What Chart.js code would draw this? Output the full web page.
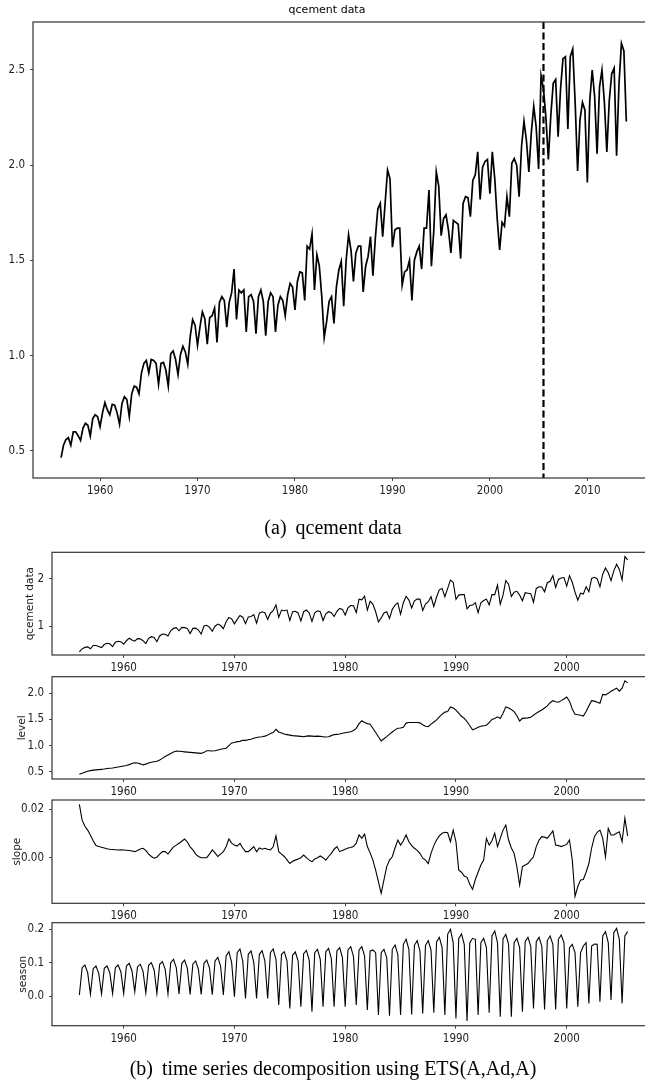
<!DOCTYPE html>
<html><head><meta charset="utf-8">
<script src="https://cdn.jsdelivr.net/npm/chart.js@4"></script>
<style>
html,body{margin:0;padding:0;background:#fff;width:645px;height:1087px;overflow:hidden;}
#wrap{position:relative;width:645px;height:1087px;overflow:hidden;}
canvas{position:absolute;left:0;top:0;}
.cap{position:absolute;left:0;width:666px;text-align:center;font-family:"Liberation Serif","DejaVu Serif",serif;font-size:20px;line-height:20px;color:#000;white-space:nowrap;}
</style></head><body>
<div id="wrap">
<canvas id="c0" width="654" height="1087" style="width:654px;height:1087px"></canvas>
<canvas id="c1" width="655" height="1087" style="width:655px;height:1087px"></canvas>
<canvas id="c2" width="655" height="1087" style="width:655px;height:1087px"></canvas>
<canvas id="c3" width="655" height="1087" style="width:655px;height:1087px"></canvas>
<canvas id="c4" width="655" height="1087" style="width:655px;height:1087px"></canvas>
<div class="cap" style="top:517px">(a)<span style="margin-left:9px">qcement data</span></div>
<div class="cap" style="top:1058px">(b)<span style="margin-left:9px">time series decomposition using ETS(A,Ad,A)</span></div>
</div>
<script>
// ---- data (quarterly, starting 1956 Q1) ----
const startYear = 1956;
const qcement = [
0.465,0.53,0.56,0.57, 0.53,0.60,0.60,0.58, 0.555,0.62,0.645,0.635, 0.578,0.67,0.69,0.68,
0.627,0.70,0.754,0.715, 0.69,0.745,0.74,0.70, 0.64,0.75,0.785,0.77, 0.68,0.80,0.84,0.835,
0.80,0.91,0.96,0.975, 0.91,0.98,0.975,0.96, 0.85,0.96,0.965,0.925, 0.84,1.01,1.025,0.98,
0.90,1.005,1.05,1.02, 0.955,1.10,1.19,1.16, 1.055,1.15,1.23,1.195, 1.06,1.20,1.21,1.25,
1.07,1.28,1.31,1.29, 1.15,1.28,1.33,1.455, 1.19,1.345,1.33,1.345, 1.125,1.31,1.32,1.285,
1.115,1.31,1.345,1.285, 1.105,1.285,1.33,1.31, 1.125,1.265,1.31,1.29, 1.21,1.32,1.38,1.36,
1.24,1.39,1.44,1.435, 1.29,1.575,1.56,1.64, 1.345,1.53,1.47,1.31, 1.095,1.18,1.285,1.31,
1.17,1.36,1.45,1.495, 1.26,1.50,1.635,1.555, 1.39,1.54,1.575,1.575, 1.335,1.47,1.52,1.625,
1.42,1.62,1.77,1.80, 1.625,1.80,1.975,1.93, 1.57,1.66,1.67,1.67, 1.37,1.44,1.45,1.50,
1.29,1.50,1.545,1.575, 1.455,1.67,1.67,1.87, 1.47,1.66,1.965,1.89, 1.63,1.72,1.74,1.66,
1.54,1.71,1.70,1.69, 1.51,1.80,1.835,1.83, 1.73,1.92,1.95,2.07, 1.82,1.99,2.02,2.03,
1.85,2.07,1.93,1.72, 1.555,1.70,1.68,1.835, 1.73,2.01,2.035,2.0, 1.835,2.1,2.23,2.13,
1.965,2.17,2.31,2.20, 1.98,2.47,2.40,2.25, 2.03,2.26,2.43,2.45, 2.15,2.40,2.56,2.57,
2.19,2.57,2.61,2.33, 1.97,2.24,2.33,2.29, 1.91,2.34,2.50,2.36, 2.06,2.41,2.50,2.33,
2.07,2.34,2.48,2.51, 2.05,2.43,2.64,2.60, 2.23
];
const decompLength = 199; // 1956 Q1 .. 2005 Q3
const level = [
0.45,0.47,0.49,0.51, 0.52,0.53,0.535,0.54, 0.545,0.55,0.56,0.565, 0.57,0.58,0.59,0.60,
0.61,0.62,0.635,0.655, 0.67,0.665,0.65,0.63, 0.645,0.665,0.68,0.69, 0.70,0.725,0.755,0.79,
0.82,0.85,0.875,0.895, 0.89,0.885,0.88,0.875, 0.87,0.865,0.86,0.855, 0.85,0.87,0.90,0.90,
0.895,0.90,0.915,0.93, 0.94,0.95,1.0,1.05, 1.06,1.075,1.08,1.10, 1.10,1.11,1.12,1.14,
1.155,1.165,1.17,1.18, 1.20,1.23,1.25,1.31, 1.26,1.24,1.22,1.21, 1.20,1.19,1.185,1.18,
1.175,1.17,1.18,1.185, 1.18,1.175,1.18,1.175, 1.17,1.165,1.17,1.19, 1.21,1.215,1.22,1.235,
1.245,1.255,1.265,1.29, 1.33,1.42,1.475,1.44, 1.42,1.41,1.33,1.25, 1.17,1.09,1.13,1.17,
1.22,1.26,1.30,1.33, 1.335,1.35,1.43,1.44, 1.44,1.44,1.44,1.435, 1.40,1.37,1.36,1.41,
1.45,1.49,1.55,1.60, 1.64,1.65,1.74,1.72, 1.68,1.62,1.56,1.52, 1.46,1.38,1.30,1.32,
1.35,1.37,1.38,1.39, 1.44,1.50,1.52,1.55, 1.52,1.62,1.74,1.72, 1.69,1.65,1.57,1.47,
1.52,1.525,1.53,1.54, 1.58,1.62,1.65,1.68, 1.72,1.76,1.82,1.86, 1.84,1.83,1.86,1.89,
1.93,1.85,1.70,1.60, 1.59,1.58,1.565,1.65, 1.76,1.86,1.85,1.83, 1.81,1.98,1.97,2.0,
2.04,2.07,2.10,2.04, 2.10,2.24,2.20
];
const slope = [
0.022,0.0155,0.013,0.0114, 0.0093,0.007,0.005,0.0046, 0.0043,0.004,0.0037,0.0035, 0.0034,0.0033,0.0032,0.0033,
0.0032,0.0031,0.0030,0.0028, 0.0025,0.003,0.0036,0.0039, 0.003,0.0015,0.0005,-0.0002, 0.0002,0.0015,0.0025,0.0025,
0.0015,0.003,0.0045,0.0052, 0.006,0.0068,0.0077,0.0065, 0.0045,0.0032,0.0015,0.0005, 0.0,0.0,0.0,0.0015,
0.0032,0.002,0.0005,0.0015, 0.0025,0.0045,0.0077,0.006, 0.0052,0.0048,0.0059,0.004, 0.0025,0.0025,0.0035,0.0046,
0.0025,0.004,0.0035,0.0039, 0.0035,0.0032,0.0045,0.009, 0.0025,0.0015,0.0005,-0.0009, -0.0024,-0.0015,-0.001,-0.0005,
0.0,0.0011,0.0,-0.001, -0.0017,-0.0005,0.0,0.0007, 0.0,-0.001,0.0005,0.0018, 0.0035,0.0046,0.0025,0.003,
0.0035,0.004,0.0042,0.0046, 0.006,0.0094,0.008,0.0097, 0.0046,0.002,-0.001,-0.0051, -0.010,-0.0147,-0.0092,-0.0037,
-0.001,0.0004,0.004,0.0073, 0.0052,0.007,0.0094,0.0066, 0.005,0.0039,0.003,0.0018, -0.0002,-0.001,-0.0024,0.0018,
0.005,0.0073,0.009,0.0101, 0.0105,0.0103,0.0066,0.0114, 0.0066,-0.0051,-0.006,-0.0076, -0.0081,-0.011,-0.0131,-0.009,
-0.006,-0.003,-0.001,0.008, 0.0052,0.007,0.0101,0.0046, 0.008,0.0114,0.0135,0.0073, 0.004,0.0018,-0.0037,-0.0113,
-0.0037,-0.003,-0.0024,-0.001, 0.0004,0.0046,0.0073,0.0087, 0.0085,0.008,0.0095,0.0111, 0.0052,0.005,0.0046,0.005,
0.0055,0.0073,-0.0009,-0.016, -0.0119,-0.0092,-0.009,-0.006, -0.0024,0.004,0.0087,0.0105, 0.0114,0.008,0.0004,0.0121,
0.0094,0.0094,0.0101,0.0107, 0.0066,0.0163,0.009
];
const season = [
0.003,0.085,0.093,0.07, 0.006,0.082,0.09,0.068, 0.006,0.083,0.09,0.07, 0.007,0.085,0.093,0.072,
0.008,0.09,0.098,0.075, 0.013,0.088,0.095,0.074, 0.009,0.092,0.10,0.078, 0.008,0.095,0.103,0.08,
0.007,0.10,0.11,0.085, 0.006,0.098,0.108,0.083, 0.005,0.096,0.105,0.08, 0.005,0.098,0.108,0.084,
0.004,0.105,0.116,0.09, 0.003,0.12,0.133,0.10, -0.002,0.13,0.141,0.105, -0.007,0.125,0.135,0.10,
-0.007,0.125,0.136,0.105, -0.007,0.13,0.141,0.11, -0.027,0.125,0.133,0.105, -0.037,0.122,0.132,0.105,
-0.032,0.127,0.137,0.108, -0.047,0.13,0.14,0.11, -0.032,0.133,0.143,0.112, -0.032,0.135,0.145,0.115,
-0.032,0.138,0.148,0.118, -0.027,0.138,0.148,0.12, -0.042,0.135,0.138,0.13, -0.057,0.13,0.14,0.115,
-0.059,0.14,0.153,0.125, -0.057,0.155,0.17,0.14, -0.055,0.152,0.166,0.135, -0.052,0.152,0.166,0.138,
-0.05,0.162,0.176,0.145, -0.057,0.185,0.20,0.16, -0.067,0.172,0.186,0.155, -0.075,0.16,0.173,0.17,
-0.057,0.16,0.173,0.145, -0.05,0.18,0.195,0.16, -0.062,0.172,0.185,0.155, -0.062,0.16,0.173,0.145,
-0.047,0.163,0.176,0.15, -0.037,0.163,0.176,0.15, -0.04,0.167,0.18,0.155, -0.04,0.17,0.183,0.16,
-0.037,0.145,0.155,0.13, -0.032,0.13,0.15,0.16, -0.022,0.15,0.156,0.155, -0.017,0.18,0.193,0.16,
-0.012,0.19,0.203,0.17, -0.022,0.18,0.193
];
const splitYear = 2005.5;
const topXTicks = [1960, 1970, 1980, 1990, 2000, 2010];
const topYTicks = [0.5, 1.0, 1.5, 2.0, 2.5];
const decompXTicks = [1960, 1970, 1980, 1990, 2000];
const dataYTicks = [1, 2];
const levelYTicks = [0.5, 1.0, 1.5, 2.0];
const slopeYTicks = [0.00, 0.02];
const seasonYTicks = [0.0, 0.1, 0.2];

// ---- drawing ----
const H = 1087;
const tickFont = {family: '"Liberation Sans Narrow","DejaVu Sans Condensed","Liberation Sans",sans-serif', size: 11.5};
const labelFont = {family: '"DejaVu Sans",sans-serif', size: 10.5};

const frame = {
  id: 'frame',
  afterDraw(chart) {
    const {ctx, chartArea: a} = chart;
    ctx.save();
    ctx.strokeStyle = '#333';
    ctx.lineWidth = 1.2;
    ctx.strokeRect(a.left, a.top, a.right - a.left, a.bottom - a.top);
    ctx.restore();
  }
};
const splitLine = {
  id: 'splitLine',
  afterDatasetsDraw(chart) {
    const {ctx, chartArea: a, scales} = chart;
    const x = scales.x.getPixelForValue(splitYear);
    ctx.save();
    ctx.strokeStyle = '#000';
    ctx.lineWidth = 2.2;
    ctx.setLineDash([7, 3.5]);
    ctx.beginPath();
    ctx.moveTo(x, a.top);
    ctx.lineTo(x, a.bottom);
    ctx.stroke();
    ctx.restore();
  }
};

function toPoints(values) {
  return values.map((v, i) => ({x: startYear + i / 4, y: v}));
}

function panel(id, c) {
  return new Chart(document.getElementById(id), {
    type: 'line',
    data: {datasets: [{data: toPoints(c.values), borderColor: '#000', borderWidth: c.lw,
      pointRadius: 0, tension: 0, fill: false}]},
    options: {
      responsive: false, animation: false, devicePixelRatio: 1,
      layout: {padding: {top: c.top, left: 0, right: 0, bottom: 0}},
      plugins: {
        legend: {display: false}, tooltip: {enabled: false},
        title: c.title ? {display: true, text: c.title, color: '#000',
          font: {family: '"DejaVu Sans",sans-serif', size: 11, weight: 'normal', lineHeight: 1.2},
          padding: {top: 4, bottom: 4.8}} : {display: false}
      },
      scales: {
        x: {
          type: 'linear', min: c.xmin, max: c.xmax,
          afterBuildTicks: s => { s.ticks = c.xticks.map(v => ({value: v})); },
          afterFit: s => { s.height = H - c.bottom; },
          grid: {display: true, drawOnChartArea: false, drawTicks: true, tickLength: 3, color: '#444', lineWidth: 1},
          border: {display: false},
          ticks: {padding: 3, color: '#222', font: tickFont, maxRotation: 0, autoSkip: false,
            callback: v => String(v)}
        },
        y: {
          type: 'linear', min: c.ymin, max: c.ymax,
          afterBuildTicks: s => { s.ticks = c.yticks.map(v => ({value: v})); },
          afterFit: s => { s.width = c.left; },
          grid: {display: true, drawOnChartArea: false, drawTicks: true, tickLength: 3, color: '#444', lineWidth: 1},
          border: {display: false},
          ticks: {padding: 5, color: '#222', font: tickFont, autoSkip: false,
            callback: v => Number(v).toFixed(c.dec)},
          title: c.ylabel ? {display: true, text: c.ylabel, color: '#222', font: labelFont,
            padding: {top: c.labelPad, bottom: 0}} : {display: false}
        }
      }
    },
    plugins: c.split ? [frame, splitLine] : [frame]
  });
}

const decompX = {xmin: 1953.53, xmax: 2007.97, xticks: decompXTicks, left: 52, lw: 1.1};

panel('c0', {values: qcement, title: 'qcement data', top: 0, bottom: 478, left: 33,
  xmin: 1953.12, xmax: 2016.84, xticks: topXTicks, ymin: 0.358, ymax: 2.752, yticks: topYTicks,
  dec: 1, lw: 1.7, split: true});
panel('c1', Object.assign({}, decompX, {values: qcement.slice(0, decompLength), top: 552.3, bottom: 655,
  ymin: 0.40, ymax: 2.56, yticks: dataYTicks, dec: 0, ylabel: 'qcement data', labelPad: 23.7}));
panel('c2', Object.assign({}, decompX, {values: level, top: 676.7, bottom: 779,
  ymin: 0.36, ymax: 2.318, yticks: levelYTicks, dec: 1, ylabel: 'level', labelPad: 16.3}));
panel('c3', Object.assign({}, decompX, {values: slope, top: 800, bottom: 903.3,
  ymin: -0.01884, ymax: 0.02384, yticks: slopeYTicks, dec: 2, ylabel: 'slope', labelPad: 11}));
panel('c4', Object.assign({}, decompX, {values: season, top: 922.7, bottom: 1025.7,
  ymin: -0.089, ymax: 0.2198, yticks: seasonYTicks, dec: 1, ylabel: 'season', labelPad: 17.2}));
</script>
</body></html>
